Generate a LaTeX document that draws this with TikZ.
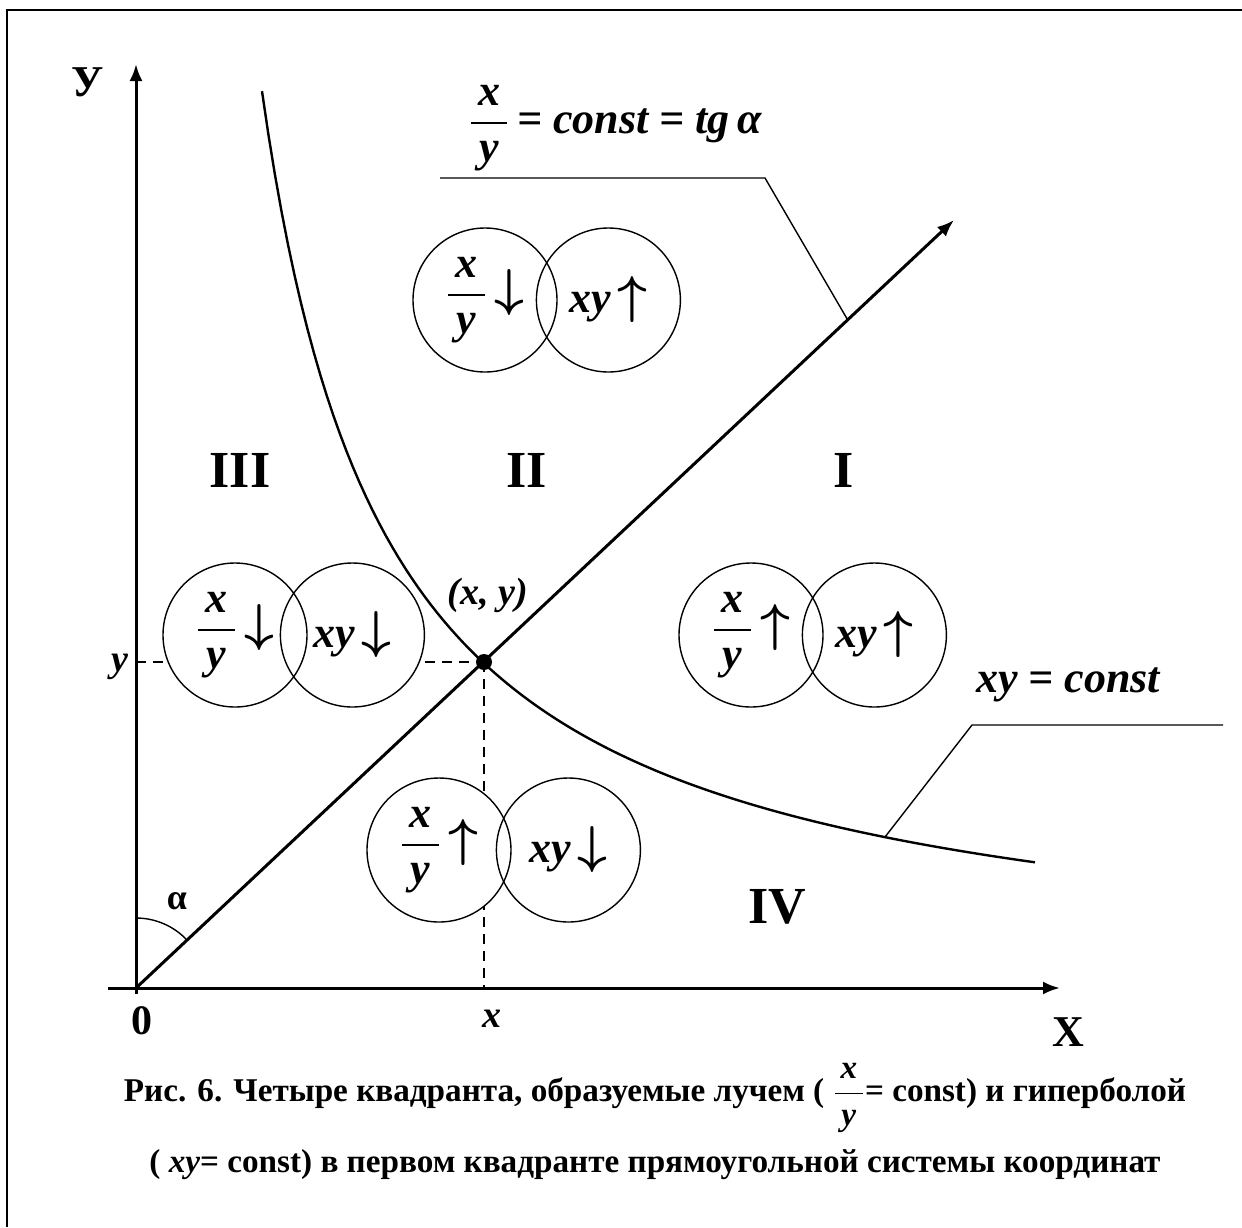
\documentclass[tikz,border=0pt]{standalone}
\usepackage{fontspec}
\usepackage{amsmath}
\setmainfont{Liberation Serif}
\usetikzlibrary{positioning,arrows.meta,calc,backgrounds}
\tikzset{
  axis/.style    = {line width=1.5pt, -{Latex[length=8.5pt,width=6.5pt]}},
  ray/.style     = {line width=1.5pt, -{Latex[length=8.5pt,width=6.5pt]}},
  curve/.style   = {line width=1.2pt},
  guide/.style   = {line width=1pt, dash pattern=on 5pt off 3.5pt},
  leader/.style  = {line width=0.7pt},
  bubble/.style  = {circle, draw, line width=0.7pt, minimum size=72pt, inner sep=0pt,
                    font=\fontsize{22}{26}\selectfont\bfseries\itshape},
  quad/.style    = {font=\fontsize{26}{30}\selectfont\bfseries},
  axlabel/.style = {font=\fontsize{22}{26}\selectfont\bfseries},
  tick/.style    = {font=\fontsize{19}{22}\selectfont\bfseries\itshape},
  formula/.style = {font=\fontsize{22}{26}\selectfont\bfseries\itshape},
  caption/.style = {font=\fontsize{16.6}{20}\selectfont\bfseries},
}
\newcommand{\ratioxy}{\ensuremath{\dfrac{\text{\itshape\,x\,}}{\text{\itshape\,y\,}}}}
\newcommand{\up}{\,\scalebox{1.25}{$\boldsymbol{\uparrow}$}}
\newcommand{\down}{\,\scalebox{1.25}{$\boldsymbol{\downarrow}$}}

\begin{document}
\begin{tikzpicture}[x=0.5pt, y=-0.5pt]
\useasboundingbox (0,0) rectangle (1242,1227);

%% --- frame -------------------------------------------------------------
\draw[line width=1pt] (7,1227) -- (7,10) -- (1242,10);

%% =====================================================================
%% Axes
%% =====================================================================
\coordinate (origin)  at (136,988);
\coordinate (x_start) at (108,988);
\coordinate (x_end)   at (1060,988);
\coordinate (y_start) at (136,994);
\coordinate (y_end)   at (136,64);
\draw[axis] (x_start) -- (x_end);
\draw[axis] (y_start) -- (y_end);

\node[axlabel] (lbl_y) at (88,82)    {У};
\node[axlabel] (lbl_x) at (1068,1032) {X};
\node[axlabel, font=\fontsize{21}{24}\selectfont\bfseries] (lbl_0) at (142,1021) {0};

%% =====================================================================
%% Ray x/y = const and hyperbola xy = const
%% =====================================================================
\coordinate (ray_end) at (954,220);
\draw[ray] (origin) -- (ray_end);
\draw[curve] plot[domain=126:899, samples=120] ({136+\x},{988-1000*(113/\x)});

\coordinate (pt) at (484,662);
\fill (pt) circle (8);
\node[tick] (lbl_pt) at (488,595) {(x, y)};
\node[tick] (lbl_px) at (492,1019) {x};
\node[tick] (lbl_py) at (120,667)  {y};

%% angle alpha
\draw[leader] (136,918) arc[start angle=-90, end angle=-43.2, radius=70];
\node[tick, font=\fontsize{18}{22}\selectfont\bfseries] (lbl_alpha) at (177,901) {α};

%% --- leaders to the labels ----------------------------------------------
\coordinate (ray_hit)   at ($(origin)!0.87!(ray_end)$);
\coordinate (ray_lead)  at (440,178);
\coordinate (ray_knee)  at (765,178);
\draw[leader] (ray_lead) -- (ray_knee) -- (ray_hit);
\node[formula] (ray_lbl) at (615,128) {\ratioxy\,= const = tg\,α};

\coordinate (hyp_hit)  at (885,837);
\coordinate (hyp_knee) at (972,725);
\coordinate (hyp_lead) at (1223,725);
\draw[leader] (hyp_hit) -- (hyp_knee) -- (hyp_lead);
\node[formula] (hyp_lbl) at (1068,685) {xy = const};

%% =====================================================================
%% Quadrants
%% =====================================================================
\node[quad] (q_I)   at (844,470) {I};
\node[quad] (q_II)  at (527,470) {II};
\node[quad] (q_III) at (240,470) {III};
\node[quad] (q_IV)  at (777,907) {IV};

\node[bubble] (ratio_II) at (485,300) {\ratioxy\down};
\node[bubble, right=-11pt of ratio_II] (prod_II) {xy\up};

\node[bubble] (ratio_III) at (235,635) {\ratioxy\down};
\node[bubble, right=-14pt of ratio_III] (prod_III) {xy\down};

\node[bubble] (ratio_I) at (751,635) {\ratioxy\up};
\node[bubble, right=-11pt of ratio_I] (prod_I) {xy\up};

\node[bubble] (ratio_IV) at (439,850) {\ratioxy\up};
\node[bubble, right=-8pt of ratio_IV] (prod_IV) {xy\down};

%% dashed guides run under the bubbles
\begin{scope}[on background layer]
  \draw[guide] (origin |- pt) -- (pt);
  \draw[guide] (pt) -- (pt |- origin);
  \foreach \b in {ratio_III,prod_III,ratio_IV,prod_IV}
    \fill[white] (\b.center) circle (72);
\end{scope}

%% =====================================================================
%% Caption
%% =====================================================================
\node[caption] (cap_1) at (655,1098)
  {Рис. 6. Четыре квадранта, образуемые лучем ( \ratioxy= const) и гиперболой};
\node[caption] (cap_2) at (655,1165)
  {( \textit{xy}= const) в первом квадранте прямоугольной системы координат};

\end{tikzpicture}
\end{document}
